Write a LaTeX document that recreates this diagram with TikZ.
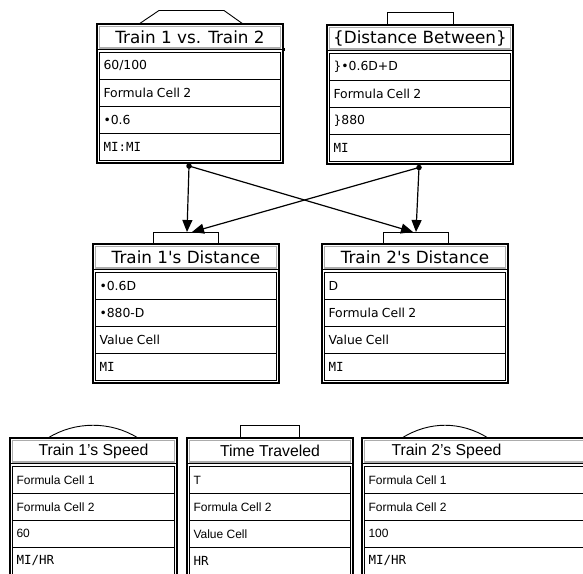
\documentclass[tikz,border=0pt]{standalone}
\usepackage{fontspec}
\newfontfamily\dvsans{DejaVu Sans}
\newfontfamily\lbsans{Liberation Sans}
\newfontfamily\dvmono{DejaVu Sans Mono}
\usetikzlibrary{arrows.meta,calc}
\tikzset{
 outerbox/.style={draw, line width=1.1pt, inner sep=0pt, outer sep=0pt, anchor=north west, fill=white},
 titlebox/.style={draw=gray!65, line width=1.5pt, inner sep=0pt, outer sep=0pt, anchor=north west},
 cellbox/.style={draw, line width=1pt, inner xsep=4pt, inner ysep=0pt, outer sep=0pt, anchor=north west, align=left},
 tabshape/.style={draw, line width=0.9pt},
 tabbox/.style={draw, line width=0.9pt, inner sep=0pt, outer sep=0pt, anchor=south west},
 link/.style={line width=1.2pt, -{Triangle[length=12pt,width=10pt]}},
 srcdot/.style={circle, fill, inner sep=0pt, minimum size=5.5pt},
}
\newcommand\ttlfont{\dvsans\fontsize{16.8}{18}\selectfont}
\newcommand\celfont{\dvsans\fontsize{12.4}{14}\selectfont}
\newcommand\mono{\dvmono\fontsize{12.5}{14}\selectfont}
\newcommand\ubox[9]{%
 \pgfmathsetmacro\bw{#3-#2}%
 \pgfmathsetmacro\cw{#3-#2-5-8}%
 \node[outerbox, minimum width=\bw pt, minimum height=139pt] (#1) at (#2,#4) {};
 \node[titlebox, minimum width=\bw pt-5pt, minimum height=21.5pt] (#1-t) at ({#2+2.5},{#4+2.5}) {\ttlfont #5};
 \draw[line width=1pt] ($(#1.north west)+(0,-25.5pt)$) -- ($(#1.north east)+(0,-25.5pt)$);
 \node[cellbox, text width=\cw pt, minimum height=26.9pt] (#1-1) at ({#2+2.5},{#4+28.5}) {\celfont #6};
 \node[cellbox, text width=\cw pt, minimum height=26.9pt] (#1-2) at (#1-1.south west) {\celfont #7};
 \node[cellbox, text width=\cw pt, minimum height=26.9pt] (#1-3) at (#1-2.south west) {\celfont #8};
 \node[cellbox, text width=\cw pt, minimum height=26.9pt] (#1-4) at (#1-3.south west) {\celfont #9};
}
\begin{document}
\begin{tikzpicture}[x=1pt,y=-1pt]
\useasboundingbox (0,0) rectangle (583,573);
\clip (0,0) rectangle (583,573);

% top row
\ubox{A}{97}{283}{24}{Train 1 vs. Train 2}{60/100}{Formula Cell 2}{•0.6}{\mono MI:MI}
\draw[tabshape] (139,24) -- (159,10.5) -- (224,10.5) -- (243,24);
\fill (282,48) rectangle (284.5,50.5);

\ubox{B}{327}{513}{25}{\{Distance Between\}}{\}•0.6D+D}{Formula Cell 2}{\}880}{\mono MI}
\node[tabbox, minimum width=66pt, minimum height=13pt] (B-tab) at (387,25) {};

% middle row
\ubox{C}{93}{279}{244}{Train 1's Distance}{•0.6D}{•880-D}{Value Cell}{\mono MI}
\node[tabbox, minimum width=65pt, minimum height=12pt] (C-tab) at (153,244) {};

\ubox{D}{322}{508}{244}{Train 2's Distance}{D}{Formula Cell 2}{Value Cell}{\mono MI}
\node[tabbox, minimum width=65pt, minimum height=12pt] (D-tab) at (383,244) {};

% connectors
\node[srcdot] (A-dot) at (189,166) {};
\node[srcdot] (B-dot) at (419,167.5) {};
\coordinate (C-in1) at ($(C-tab.north)+(1.5pt,0)$);
\coordinate (C-in2) at ($(C-tab.north)+(6.5pt,0)$);
\coordinate (D-in1) at ($(D-tab.north)+(-2.5pt,0)$);
\coordinate (D-in2) at ($(D-tab.north)+(0.5pt,0)$);
\draw[link] (A-dot.center) -- (C-in1);
\draw[link] (A-dot.center) -- (D-in1);
\draw[link] (B-dot.center) -- (D-in2);
\draw[link] (B-dot.center) -- (C-in2);

% bottom row
\renewcommand\ttlfont{\lbsans\fontsize{15.8}{18}\selectfont}
\renewcommand\celfont{\lbsans\fontsize{12}{14}\selectfont}
\ubox{E}{10}{177}{438}{Train 1’s Speed}{Formula Cell 1}{Formula Cell 2}{60}{\mono MI/HR}
\draw[tabshape] (48,438) .. controls (75,421) and (111,421) .. (138,438);

\ubox{F}{187}{353}{438}{Time Traveled}{T}{Formula Cell 2}{Value Cell}{\mono HR}
\node[tabbox, minimum width=59pt, minimum height=13pt] (F-tab) at (240,438) {};

\ubox{G}{362}{598}{438}{\hspace*{-67pt}Train 2’s Speed}{Formula Cell 1}{Formula Cell 2}{100}{\mono MI/HR}
\draw[tabshape] (402,438) .. controls (429,421) and (461,421) .. (488,438);
\end{tikzpicture}
\end{document}
